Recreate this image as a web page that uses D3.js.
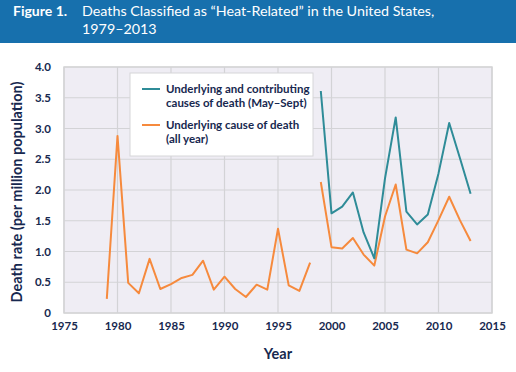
<!DOCTYPE html>
<html>
<head>
<meta charset="utf-8">
<script src="https://cdn.jsdelivr.net/npm/d3@7"></script>
<style>
  body { margin: 0; background: #fff; }
  svg { display: block; font-family: Lato, "Open Sans", sans-serif; }
</style>
</head>
<body>
<div id="chart"></div>
<script>
// data
const yearsAll = d3.range(1979, 2014);
const underlyingAllYear = [0.23, 2.88, 0.49, 0.32, 0.88, 0.39, 0.47, 0.57, 0.62, 0.85,
  0.38, 0.59, 0.39, 0.26, 0.46, 0.38, 1.37, 0.45, 0.36, 0.82,
  2.13, 1.07, 1.05, 1.22, 0.95, 0.77, 1.57, 2.09, 1.03, 0.97,
  1.15, 1.51, 1.89, 1.51, 1.17];
const yearsContrib = d3.range(1999, 2014);
const contributingMaySept = [3.61, 1.62, 1.73, 1.96, 1.31, 0.89, 2.19, 3.18, 1.65, 1.44,
  1.60, 2.27, 3.09, 2.52, 1.94];
const xTicks = [1975, 1980, 1985, 1990, 1995, 2000, 2005, 2010, 2015];
const yTicks = [0, 0.5, 1.0, 1.5, 2.0, 2.5, 3.0, 3.5, 4.0];
const legendLabels = [
  ['Underlying and contributing', 'causes of death (May\u2013Sept)'],
  ['Underlying cause of death', '(all year)']
];

const width = 516, height = 372;
const margin = {top: 67, right: 24, bottom: 59, left: 64};
const plotWidth = width - margin.left - margin.right;
const plotHeight = height - margin.top - margin.bottom;
const teal = '#2f8c98', orange = '#f68a3d', navy = '#17284f';

const svg = d3.select('#chart').append('svg')
    .attr('width', width)
    .attr('height', height);

// title banner
svg.append('rect').attr('width', width).attr('height', 43).attr('fill', '#1770ad');
svg.append('text').attr('x', 13).attr('y', 16).attr('fill', '#fff')
    .attr('font-size', 14).attr('font-weight', 'bold').text('Figure 1.');
svg.append('text').attr('x', 82).attr('y', 16).attr('fill', '#fff')
    .attr('font-size', 14.3).text('Deaths Classified as \u201cHeat-Related\u201d in the United States,');
svg.append('text').attr('x', 82).attr('y', 33.5).attr('fill', '#fff')
    .attr('font-size', 14.3).text('1979\u20132013');

const g = svg.append('g')
    .attr('transform', 'translate(' + margin.left + ',' + margin.top + ')');

const x = d3.scaleLinear().domain([1975, 2015]).range([0, plotWidth]);
const y = d3.scaleLinear().domain([0, 4]).range([plotHeight, 0]);

// plot background + grid
g.append('rect')
    .attr('width', plotWidth).attr('height', plotHeight)
    .attr('fill', '#efedf4').attr('stroke', '#d6d6d8').attr('stroke-width', 1.5);

g.append('g').selectAll('line').data(xTicks).join('line')
    .attr('x1', d => x(d)).attr('x2', d => x(d))
    .attr('y1', 0).attr('y2', plotHeight)
    .attr('stroke', '#d3d3d6').attr('stroke-width', 1.2);
g.append('g').selectAll('line').data(yTicks).join('line')
    .attr('x1', 0).attr('x2', plotWidth)
    .attr('y1', d => y(d)).attr('y2', d => y(d))
    .attr('stroke', '#d3d3d6').attr('stroke-width', 1.2);

// axes (labels only)
const xAxis = g.append('g')
    .attr('transform', 'translate(0,' + plotHeight + ')')
    .call(d3.axisBottom(x).tickValues(xTicks).tickFormat(d3.format('d')).tickSize(0).tickPadding(9));
const yAxis = g.append('g')
    .call(d3.axisLeft(y).tickValues(yTicks).tickFormat(d => d === 0 ? '0' : d3.format('.1f')(d)).tickSize(0).tickPadding(13));
[xAxis, yAxis].forEach(a => {
  a.select('.domain').remove();
  a.selectAll('text').attr('fill', navy).attr('font-size', 11.5).attr('font-weight', 'bold')
      .attr('font-family', 'Lato, sans-serif');
});

// axis titles
svg.append('text')
    .attr('x', margin.left + plotWidth / 2).attr('y', 359)
    .attr('text-anchor', 'middle').attr('fill', navy)
    .attr('font-size', 14.5).attr('font-weight', 'bold').text('Year');
svg.append('text')
    .attr('transform', 'translate(22,' + (margin.top + plotHeight / 2 + 2) + ') rotate(-90)')
    .attr('text-anchor', 'middle').attr('fill', navy)
    .attr('font-size', 14.5).attr('font-weight', 'bold').text('Death rate (per million population)');

// lines
const line = d3.line().x(d => x(d[0])).y(d => y(d[1]));
g.append('path')
    .datum(yearsAll.map((yr, i) => [yr, underlyingAllYear[i]]).filter(d => d[0] <= 1998))
    .attr('fill', 'none').attr('stroke', orange).attr('stroke-width', 2)
    .attr('stroke-linejoin', 'round').attr('d', line);
g.append('path')
    .datum(yearsAll.map((yr, i) => [yr, underlyingAllYear[i]]).filter(d => d[0] >= 1999))
    .attr('fill', 'none').attr('stroke', orange).attr('stroke-width', 2)
    .attr('stroke-linejoin', 'round').attr('d', line);
g.append('path')
    .datum(yearsContrib.map((yr, i) => [yr, contributingMaySept[i]]))
    .attr('fill', 'none').attr('stroke', teal).attr('stroke-width', 2)
    .attr('stroke-linejoin', 'round').attr('d', line);

// legend
const legend = svg.append('g').attr('transform', 'translate(130,73)');
legend.append('rect')
    .attr('width', 183).attr('height', 83)
    .attr('fill', '#fff').attr('stroke', '#d6d6d8').attr('stroke-width', 1);
[teal, orange].forEach((c, i) => {
  const row = legend.append('g').attr('transform', 'translate(0,' + (16 + i * 36) + ')');
  row.append('line').attr('x1', 12).attr('x2', 30).attr('y1', 0).attr('y2', 0)
      .attr('stroke', c).attr('stroke-width', 2);
  legendLabels[i].forEach((t, j) => {
    row.append('text').attr('x', 36).attr('y', 4 + j * 14)
        .attr('fill', navy).attr('font-size', 11.5).attr('font-weight', 'bold').text(t);
  });
});
</script>
</body>
</html>
